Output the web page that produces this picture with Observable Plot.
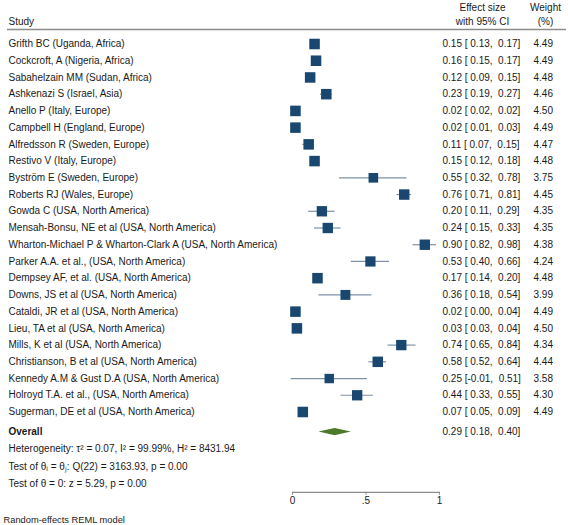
<!DOCTYPE html>
<html>
<head>
<meta charset="utf-8">
<script src="https://cdn.jsdelivr.net/npm/d3@7"></script>
<script src="https://cdn.jsdelivr.net/npm/@observablehq/plot@0.6"></script>
<style>
  html, body { margin: 0; padding: 0; background: #fff; overflow: hidden; }
  #chart svg { display: block; }
  #chart svg text { white-space: pre; }
</style>
</head>
<body>
<div id="chart"></div>
<script>
const studies = [
  "Grifth BC (Uganda, Africa)",
  "Cockcroft, A (Nigeria, Africa)",
  "Sabahelzain MM (Sudan, Africa)",
  "Ashkenazi S (Israel, Asia)",
  "Anello P (Italy, Europe)",
  "Campbell H (England, Europe)",
  "Alfredsson R (Sweden, Europe)",
  "Restivo V (Italy, Europe)",
  "Byström E (Sweden, Europe)",
  "Roberts RJ (Wales, Europe)",
  "Gowda C (USA, North America)",
  "Mensah-Bonsu, NE et al (USA, North America)",
  "Wharton-Michael P & Wharton-Clark A (USA, North America)",
  "Parker A.A. et al., (USA, North America)",
  "Dempsey AF, et al. (USA, North America)",
  "Downs, JS et al (USA, North America)",
  "Cataldi, JR et al (USA, North America)",
  "Lieu, TA et al (USA, North America)",
  "Mills, K et al (USA, North America)",
  "Christianson, B et al (USA, North America)",
  "Kennedy A.M & Gust D.A (USA, North America)",
  "Holroyd T.A. et al., (USA, North America)",
  "Sugerman, DE et al (USA, North America)"
];
const effects = [0.15, 0.16, 0.12, 0.23, 0.02, 0.02, 0.11, 0.15, 0.55, 0.76, 0.20, 0.24, 0.90, 0.53, 0.17, 0.36, 0.02, 0.03, 0.74, 0.58, 0.25, 0.44, 0.07];
const lowers  = [0.13, 0.15, 0.09, 0.19, 0.02, 0.01, 0.07, 0.12, 0.32, 0.71, 0.11, 0.15, 0.82, 0.40, 0.14, 0.18, 0.00, 0.03, 0.65, 0.52, -0.01, 0.33, 0.05];
const uppers  = [0.17, 0.17, 0.15, 0.27, 0.02, 0.03, 0.15, 0.18, 0.78, 0.81, 0.29, 0.33, 0.98, 0.66, 0.20, 0.54, 0.04, 0.04, 0.84, 0.64, 0.51, 0.55, 0.09];
const weights = [4.49, 4.49, 4.48, 4.46, 4.50, 4.49, 4.47, 4.48, 3.75, 4.45, 4.35, 4.35, 4.38, 4.24, 4.48, 3.99, 4.49, 4.50, 4.34, 4.44, 3.58, 4.30, 4.49];

const overallLabel = "Overall";
const overallEffect = 0.29;
const overallLower = 0.18;
const overallUpper = 0.40;

const statLines = [
  "Heterogeneity: τ² = 0.07, I² = 99.99%, H² = 8431.94",
  "Test of θᵢ = θⱼ: Q(22) = 3163.93, p = 0.00",
  "Test of θ = 0: z = 5.29, p = 0.00"
];
const caption = "Random-effects REML model";
const headerStudy = "Study";
const headerEffect = ["Effect size", "with 95% CI"];
const headerWeight = ["Weight", "(%)"];
const xTicks = [0, 0.5, 1];
const xTickLabels = ["0", ".5", "1"];

const pad = v => (v < 0 ? "-" : " ") + Math.abs(v).toFixed(2);
const ciText = (e, l, u) => `${e.toFixed(2)} [${pad(l)},${pad(u).replace(/^ /, "  ")}]`;

const rows = studies.map((s, i) => ({
  row: i, study: s, effect: effects[i], lower: lowers[i], upper: uppers[i], weight: weights[i],
  ci: ciText(effects[i], lowers[i], uppers[i]),
  w: weights[i].toFixed(2)
}));

// layout in row units
const overallRow = 23.2;
const headerRows = [-2.18, -1.33];
const headerLineRow = -0.87;
const statRows = [24.21, 25.25, 26.27];
const axisRow = 26.8;
const captionRow = 28.43;
const diamondHalf = 0.22;

const diamond = [
  {x: overallLower, y1: overallRow, y2: overallRow},
  {x: overallEffect, y1: overallRow - diamondHalf, y2: overallRow + diamondHalf},
  {x: overallUpper, y1: overallRow, y2: overallRow}
];

const textColor = "#1a1a1a";
const fs = 10;

const chart = Plot.plot({
  width: 568,
  height: 525,
  marginLeft: 0,
  marginRight: 0,
  marginTop: 0,
  marginBottom: 33.3,
  style: {fontFamily: "'Liberation Sans', Arial, sans-serif", fontSize: fs + "px", color: textColor, background: "#fff"},
  x: {domain: [0, 1], range: [292, 439], axis: null},
  y: {type: "linear", domain: [0, 22], range: [43.5, 411.5], axis: null},
  r: {type: "sqrt", domain: [0, 4.5], range: [0, 5.95]},
  marks: [
    // header
    Plot.text([headerStudy], {text: d => d, y: headerRows[1], frameAnchor: "left", dx: 8, textAnchor: "start", fill: textColor}),
    Plot.text(headerEffect, {text: d => d, y: (d, i) => headerRows[i], frameAnchor: "right", dx: -86, textAnchor: "middle", fill: textColor}),
    Plot.text(headerWeight, {text: d => d, y: (d, i) => headerRows[i], frameAnchor: "right", dx: -23, textAnchor: "middle", fill: textColor}),
    Plot.ruleY([headerLineRow], {y: d => d, insetLeft: 7, insetRight: 2, stroke: "#8c8c8c", strokeWidth: 1.6}),
    // study rows
    Plot.text(rows, {y: "row", text: "study", frameAnchor: "left", dx: 8, textAnchor: "start", fill: textColor}),
    Plot.ruleY(rows, {y: "row", x1: "lower", x2: "upper", stroke: "#7d92a8", strokeWidth: 1.2}),
    Plot.dot(rows, {x: "effect", y: "row", r: "weight", symbol: "square", fill: "#1a476f", stroke: null}),
    Plot.text(rows, {y: "row", text: "ci", frameAnchor: "right", dx: -126, textAnchor: "start", fill: textColor}),
    Plot.text(rows, {y: "row", text: "w", frameAnchor: "right", dx: -15.5, textAnchor: "end", fill: textColor}),
    // overall
    Plot.text([overallLabel], {text: d => d, y: overallRow, frameAnchor: "left", dx: 8, textAnchor: "start", fontWeight: "bold", fill: textColor}),
    Plot.areaY(diamond, {x: "x", y1: "y1", y2: "y2", fill: "#4d7a2a"}),
    Plot.text([ciText(overallEffect, overallLower, overallUpper)], {text: d => d, y: overallRow, frameAnchor: "right", dx: -126, textAnchor: "start", fill: textColor}),
    // stats
    Plot.text(statLines, {text: d => d, y: (d, i) => statRows[i], frameAnchor: "left", dx: 8, textAnchor: "start", fill: textColor}),
    // axis
    Plot.ruleY([axisRow], {y: d => d, x1: xTicks[0], x2: xTicks[xTicks.length - 1], stroke: "#8c8c8c", strokeWidth: 1.2}),
    Plot.axisX({ticks: xTicks, tickFormat: (d, i) => xTickLabels[i], tickSize: 3, tickPadding: 2, stroke: "#8c8c8c", fill: textColor, anchor: "bottom", label: null}),
    // caption
    Plot.text([caption], {text: d => d, y: captionRow, frameAnchor: "left", dx: 3, textAnchor: "start", fontSize: 9.3, fill: textColor})
  ]
});

document.getElementById("chart").appendChild(chart);
</script>
</body>
</html>
